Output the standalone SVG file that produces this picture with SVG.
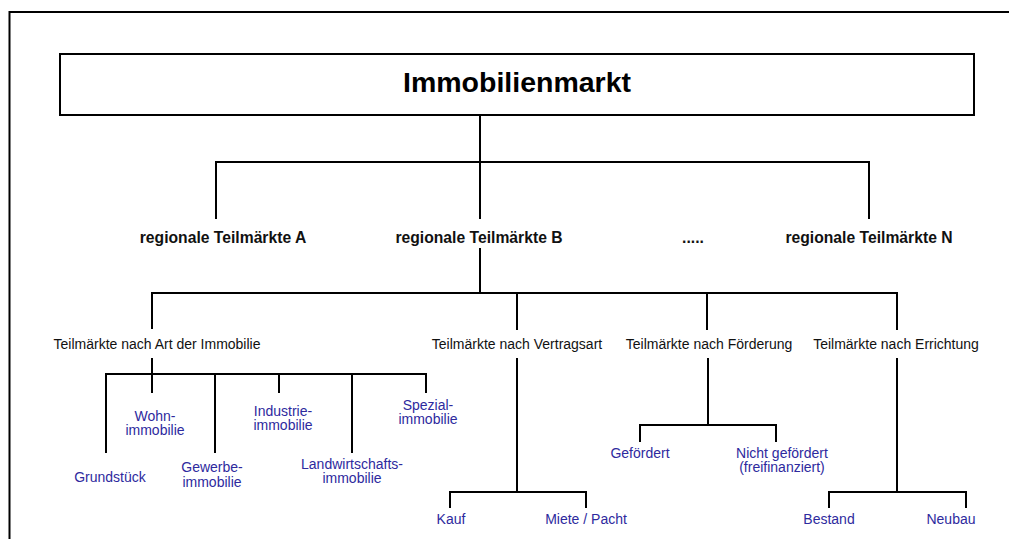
<svg xmlns="http://www.w3.org/2000/svg" width="1009" height="539" viewBox="0 0 1009 539">
<style>
.ln{fill:none;stroke:#000;stroke-width:2}
.t1{font-family:"Liberation Sans",Arial,sans-serif;font-weight:bold;font-size:15.7px;fill:#111;text-anchor:middle}
.t2{font-family:"Liberation Sans",Arial,sans-serif;font-size:14px;fill:#111;text-anchor:middle}
.t3{font-family:"Liberation Sans",Arial,sans-serif;font-size:14px;fill:#2e2a9e;text-anchor:middle}
</style>
<rect x="0" y="0" width="1009" height="539" fill="#fff"/>
<path class="ln" d="M9.5,539 V12 H1009"/>
<g id="connectors" class="ln">
<path d="M480,115 V219 M216,219 V162 H869 V219"/>
<path d="M480,248 V293 M152,329 V293 H897 V330 M517,293 V330 M707,293 V330"/>
<path d="M152,358 V393 M106,453 V374 H426 V393 M215,374 V453 M279,374 V393 M352,374 V453"/>
<path d="M517,358 V492 M450,508 V492 H586 V508"/>
<path d="M708,358 V425 M640,442 V425 H776 V442"/>
<path d="M897,358 V492 M829,508 V492 H966 V508"/>
</g>
<g id="immobilienmarkt">
<rect x="60" y="54" width="914" height="61" fill="#fff" stroke="#000" stroke-width="2"/>
<text x="517" y="92" font-family="Liberation Sans,Arial,sans-serif" font-weight="bold" font-size="28.5px" fill="#000" text-anchor="middle">Immobilienmarkt</text>
</g>
<g id="reg-a"><text class="t1" x="223" y="243">regionale Teilmärkte A</text></g>
<g id="reg-b"><text class="t1" x="479" y="243">regionale Teilmärkte B</text></g>
<g id="reg-dots"><text class="t1" x="693" y="243">.....</text></g>
<g id="reg-n"><text class="t1" x="869" y="243">regionale Teilmärkte N</text></g>
<g id="art"><text class="t2" x="157" y="349">Teilmärkte nach Art der Immobilie</text></g>
<g id="vertrag"><text class="t2" x="517" y="349">Teilmärkte nach Vertragsart</text></g>
<g id="foerderung"><text class="t2" x="709" y="349">Teilmärkte nach Förderung</text></g>
<g id="errichtung"><text class="t2" x="896" y="349">Teilmärkte nach Errichtung</text></g>
<g id="grundstueck"><text class="t3" x="110" y="482">Grundstück</text></g>
<g id="wohn"><text class="t3" x="155" y="421">Wohn-</text><text class="t3" x="155" y="435">immobilie</text></g>
<g id="gewerbe"><text class="t3" x="212" y="472">Gewerbe-</text><text class="t3" x="212" y="487">immobilie</text></g>
<g id="industrie"><text class="t3" x="283" y="416">Industrie-</text><text class="t3" x="283" y="430">immobilie</text></g>
<g id="landwirtschaft"><text class="t3" x="352" y="469">Landwirtschafts-</text><text class="t3" x="352" y="483">immobilie</text></g>
<g id="spezial"><text class="t3" x="428" y="410">Spezial-</text><text class="t3" x="428" y="424">immobilie</text></g>
<g id="kauf"><text class="t3" x="451" y="524">Kauf</text></g>
<g id="miete"><text class="t3" x="586" y="524">Miete / Pacht</text></g>
<g id="gefoerdert"><text class="t3" x="640" y="458">Gefördert</text></g>
<g id="nicht-gefoerdert"><text class="t3" x="782" y="458">Nicht gefördert</text><text class="t3" x="782" y="472">(freifinanziert)</text></g>
<g id="bestand"><text class="t3" x="829" y="524">Bestand</text></g>
<g id="neubau"><text class="t3" x="951" y="524">Neubau</text></g>
</svg>
